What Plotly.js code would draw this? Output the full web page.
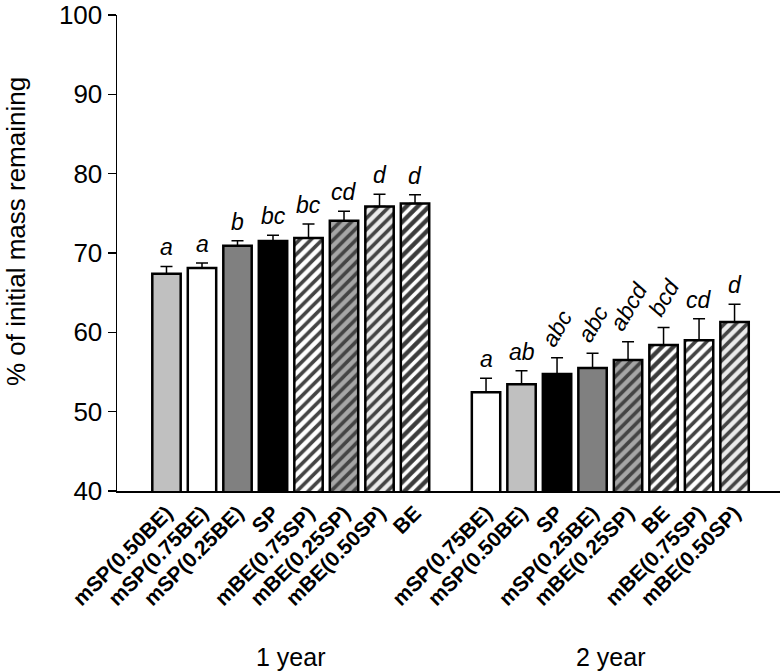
<!DOCTYPE html>
<html>
<head>
<meta charset="utf-8">
<script src="https://cdn.plot.ly/plotly-3.0.1.min.js"></script>
<style>html,body{margin:0;padding:0;background:#fff;}#chart{width:783px;height:671px;}</style>
</head>
<body>
<div id="chart"></div>
<script>
// ---- data ----
const yTitle = '% of initial mass remaining';
const groupLabels = ['1 year', '2 year'];

const cat1 = ['mSP(0.50BE)', 'mSP(0.75BE)', 'mSP(0.25BE)', 'SP', 'mBE(0.75SP)', 'mBE(0.25SP)', 'mBE(0.50SP)', 'BE'];
const val1 = [67.4, 68.1, 70.9, 71.5, 71.9, 74.05, 75.85, 76.25];
const err1 = [0.9, 0.65, 0.65, 0.75, 1.75, 1.2, 1.55, 1.1];
const let1 = ['a', 'a', 'b', 'bc', 'bc', 'cd', 'd', 'd'];

const cat2 = ['mSP(0.75BE)', 'mSP(0.50BE)', 'SP', 'mSP(0.25BE)', 'mBE(0.25SP)', 'BE', 'mBE(0.75SP)', 'mBE(0.50SP)'];
const val2 = [52.45, 53.45, 54.75, 55.5, 56.5, 58.4, 59.0, 61.3];
const err2 = [1.75, 1.7, 2.05, 1.85, 2.3, 2.2, 2.7, 2.25];
const let2 = ['a', 'ab', 'abc', 'abc', 'abcd', 'bcd', 'cd', 'd'];

// ---- styles ----
const fills = {
  'mSP(0.50BE)': {bg: '#c0c0c0', fg: '#000000', shape: ''},
  'mSP(0.75BE)': {bg: '#ffffff', fg: '#000000', shape: ''},
  'mSP(0.25BE)': {bg: '#808080', fg: '#000000', shape: ''},
  'SP':          {bg: '#000000', fg: '#000000', shape: ''},
  'mBE(0.75SP)': {bg: '#ffffff', fg: '#999999', shape: '/'},
  'mBE(0.25SP)': {bg: '#a6a6a6', fg: '#000000', shape: '/'},
  'mBE(0.50SP)': {bg: '#ebebeb', fg: '#000000', shape: '/'},
  'BE':          {bg: '#3c3c3c', fg: '#000000', shape: '/'}
};
const letterAngle2 = [0, 0, -60, -60, -60, -60, 0, 0];
const FONT = 'Liberation Sans, Arial, Helvetica, sans-serif';

const x1 = cat1.map((_, i) => i);
const x2 = cat2.map((_, i) => i + cat1.length + 1);

function barTrace(x, cats, vals, errs) {
  return {
    type: 'bar', x: x, y: vals, width: 0.8,
    marker: {
      color: cats.map(c => fills[c].bg),
      line: {color: '#000', width: 2.5},
      pattern: {
        shape: cats.map(c => fills[c].shape),
        fgcolor: cats.map(c => fills[c].fg),
        fgopacity: 1,
        size: 8,
        solidity: 0.45,
        fillmode: 'overlay'
      }
    },
    error_y: {type: 'data', array: errs, arrayminus: errs.map(() => 0), symmetric: false,
              color: '#000', thickness: 1.5, width: 6},
    hoverinfo: 'x+y'
  };
}

const annotations = [];
function addLetters(x, vals, errs, lets, angles) {
  x.forEach((xi, i) => {
    annotations.push({
      x: xi, y: vals[i] + errs[i], xref: 'x', yref: 'y',
      text: lets[i], showarrow: false, xanchor: 'center', yanchor: 'bottom',
      yshift: 4, textangle: angles ? angles[i] : 0,
      font: {family: FONT, size: 23, style: 'italic', color: '#000'}
    });
  });
}
addLetters(x1, val1, err1, let1, null);
addLetters(x2, val2, err2, let2, letterAngle2);

const centers = [(x1[0] + x1[x1.length - 1]) / 2, (x2[0] + x2[x2.length - 1]) / 2];
groupLabels.forEach((g, i) => {
  annotations.push({
    x: centers[i], y: -0.349, xref: 'x', yref: 'paper', text: g, showarrow: false,
    xanchor: 'center', yanchor: 'middle',
    font: {family: FONT, size: 25, color: '#000'}
  });
});

// y-axis title
annotations.push({
  x: -0.1523, y: 0.544, xref: 'paper', yref: 'paper', text: yTitle, showarrow: false,
  textangle: -90, xanchor: 'center', yanchor: 'middle',
  font: {family: FONT, size: 26, color: '#000'}
});

const layout = {
  width: 783, height: 671,
  margin: {l: 117, r: 3, t: 15, b: 180},
  paper_bgcolor: '#fff', plot_bgcolor: '#fff',
  showlegend: false,
  xaxis: {
    range: [-1.394, 17.28],
    tickmode: 'array', tickvals: x1.concat(x2), ticktext: cat1.concat(cat2),
    tickangle: -45, ticks: '', showgrid: false, zeroline: false,
    showline: true, linecolor: '#000', linewidth: 1.5,
    tickfont: {family: FONT, size: 21, weight: 'bold', color: '#000'}
  },
  yaxis: {
    range: [40, 100], tick0: 40, dtick: 10,
    ticks: 'outside', ticklen: 8, tickwidth: 1.5, tickcolor: '#000',
    showline: true, linecolor: '#000', linewidth: 1.5,
    showgrid: false, zeroline: false,
    tickfont: {family: FONT, size: 26, color: '#000'}
  },
  annotations: annotations
};

Plotly.newPlot('chart', [barTrace(x1, cat1, val1, err1), barTrace(x2, cat2, val2, err2)], layout,
  {displayModeBar: false, staticPlot: true});
</script>
</body>
</html>
